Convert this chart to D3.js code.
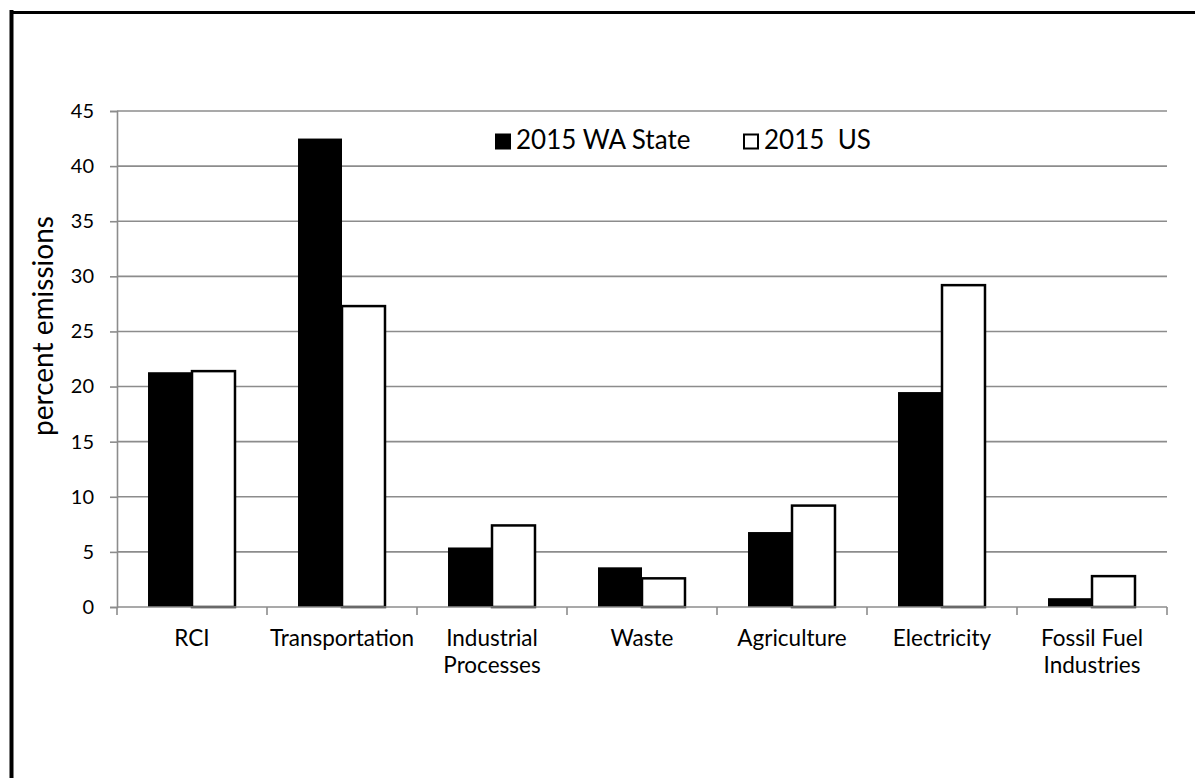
<!DOCTYPE html>
<html>
<head>
<meta charset="utf-8">
<script src="https://cdn.jsdelivr.net/npm/d3@7"></script>
<style>
  html, body { margin: 0; padding: 0; background: #fff; }
  svg { display: block; font-family: Lato, "Open Sans", sans-serif; }
</style>
</head>
<body>
<svg id="chart" width="1195" height="778"></svg>
<script>
// Share of greenhouse gas emissions by sector, 2015
const categories = [
  ["RCI"],
  ["Transportation"],
  ["Industrial", "Processes"],
  ["Waste"],
  ["Agriculture"],
  ["Electricity"],
  ["Fossil Fuel", "Industries"]
];
const seriesNames = ["2015 WA State", "2015  US"];
const waState = [21.3, 42.5, 5.4, 3.6, 6.8, 19.5, 0.8];
const usTotal = [21.4, 27.3, 7.4, 2.6, 9.2, 29.2, 2.8];
const yTicks = [0, 5, 10, 15, 20, 25, 30, 35, 40, 45];

const svg = d3.select("#chart");
const margin = { left: 117, right: 28, top: 111, bottom: 171 };
const W = 1195, H = 778;

// frame around the figure
svg.append("line").attr("x1", 11.5).attr("x2", 11.5).attr("y1", 10).attr("y2", H)
  .attr("stroke", "#000").attr("stroke-width", 4);
svg.append("line").attr("x1", 10).attr("x2", W).attr("y1", 12.5).attr("y2", 12.5)
  .attr("stroke", "#000").attr("stroke-width", 3);

const keys = categories.map((c, i) => i);
const x0 = d3.scaleBand().domain(keys).range([margin.left, W - margin.right])
  .paddingInner(0).paddingOuter(0);
const x1 = d3.scaleBand().domain([0, 1]).range([0, x0.bandwidth()])
  .paddingInner(0).paddingOuter(0.705);
const y = d3.scaleLinear().domain([0, 45]).range([H - margin.bottom, margin.top]);

const grid = "#8c8c8c";

// horizontal gridlines
svg.append("g").selectAll("line").data(yTicks.filter(t => t > 0)).join("line")
  .attr("x1", margin.left).attr("x2", W - margin.right)
  .attr("y1", d => y(d)).attr("y2", d => y(d))
  .attr("stroke", grid).attr("stroke-width", 1.6);

// y axis
const yAxis = svg.append("g").attr("transform", `translate(${margin.left},0)`)
  .call(d3.axisLeft(y).tickValues(yTicks).tickSize(7).tickPadding(16));
yAxis.select(".domain").attr("stroke", grid).attr("stroke-width", 1.6);
yAxis.selectAll(".tick line").attr("stroke", grid).attr("stroke-width", 1.6);
yAxis.selectAll(".tick text").attr("font-size", 20).attr("fill", "#000")
  .attr("font-family", "Lato, sans-serif");

// axis title
svg.append("text")
  .attr("transform", `translate(53,326) rotate(-90)`)
  .attr("text-anchor", "middle")
  .attr("font-size", 28)
  .attr("fill", "#000")
  .text("percent emissions");

// bars
const groups = svg.append("g").selectAll("g").data(keys).join("g")
  .attr("transform", i => `translate(${x0(i)},0)`);

groups.append("rect")
  .attr("x", x1(0)).attr("width", x1.bandwidth())
  .attr("y", i => y(waState[i])).attr("height", i => y(0) - y(waState[i]))
  .attr("fill", "#000");

groups.append("rect")
  .attr("x", x1(1)).attr("width", x1.bandwidth() - 1)
  .attr("y", i => y(usTotal[i])).attr("height", i => y(0) - y(usTotal[i]))
  .attr("fill", "#fff").attr("stroke", "#000").attr("stroke-width", 2.5);

// x axis baseline and category ticks
const xBase = y(0);
svg.append("line").attr("x1", margin.left).attr("x2", W - margin.right)
  .attr("y1", xBase).attr("y2", xBase).attr("stroke", grid).attr("stroke-width", 1.6);
const bounds = keys.map(i => x0(i)).concat([W - margin.right]);
svg.append("g").selectAll("line").data(bounds).join("line")
  .attr("x1", d => d).attr("x2", d => d)
  .attr("y1", xBase).attr("y2", xBase + 8)
  .attr("stroke", grid).attr("stroke-width", 1.6);

// category labels
const lab = svg.append("g").selectAll("text").data(keys).join("text")
  .attr("x", i => x0(i) + x0.bandwidth() / 2)
  .attr("y", 646)
  .attr("text-anchor", "middle")
  .attr("font-size", 22.5)
  .attr("fill", "#000");
lab.selectAll("tspan").data(i => categories[i].map(t => ({ t, i }))).join("tspan")
  .attr("x", d => x0(d.i) + x0.bandwidth() / 2)
  .attr("dy", (d, j) => j === 0 ? 0 : 27)
  .text(d => d.t);

// legend
const legend = svg.append("g");
const legendItems = [
  { name: seriesNames[0], x: 495, fill: "#000" },
  { name: seriesNames[1], x: 743, fill: "#fff" }
];
legendItems.forEach(d => {
  legend.append("rect").attr("x", d.x + 1).attr("y", 134.5).attr("width", 14).attr("height", 14)
    .attr("fill", d.fill).attr("stroke", "#000").attr("stroke-width", 2);
  legend.append("text").attr("x", d.x + 21).attr("y", 148.5)
    .attr("font-size", 26).attr("fill", "#000")
    .attr("xml:space", "preserve")
    .style("white-space", "pre")
    .text(d.name);
});
</script>
</body>
</html>
